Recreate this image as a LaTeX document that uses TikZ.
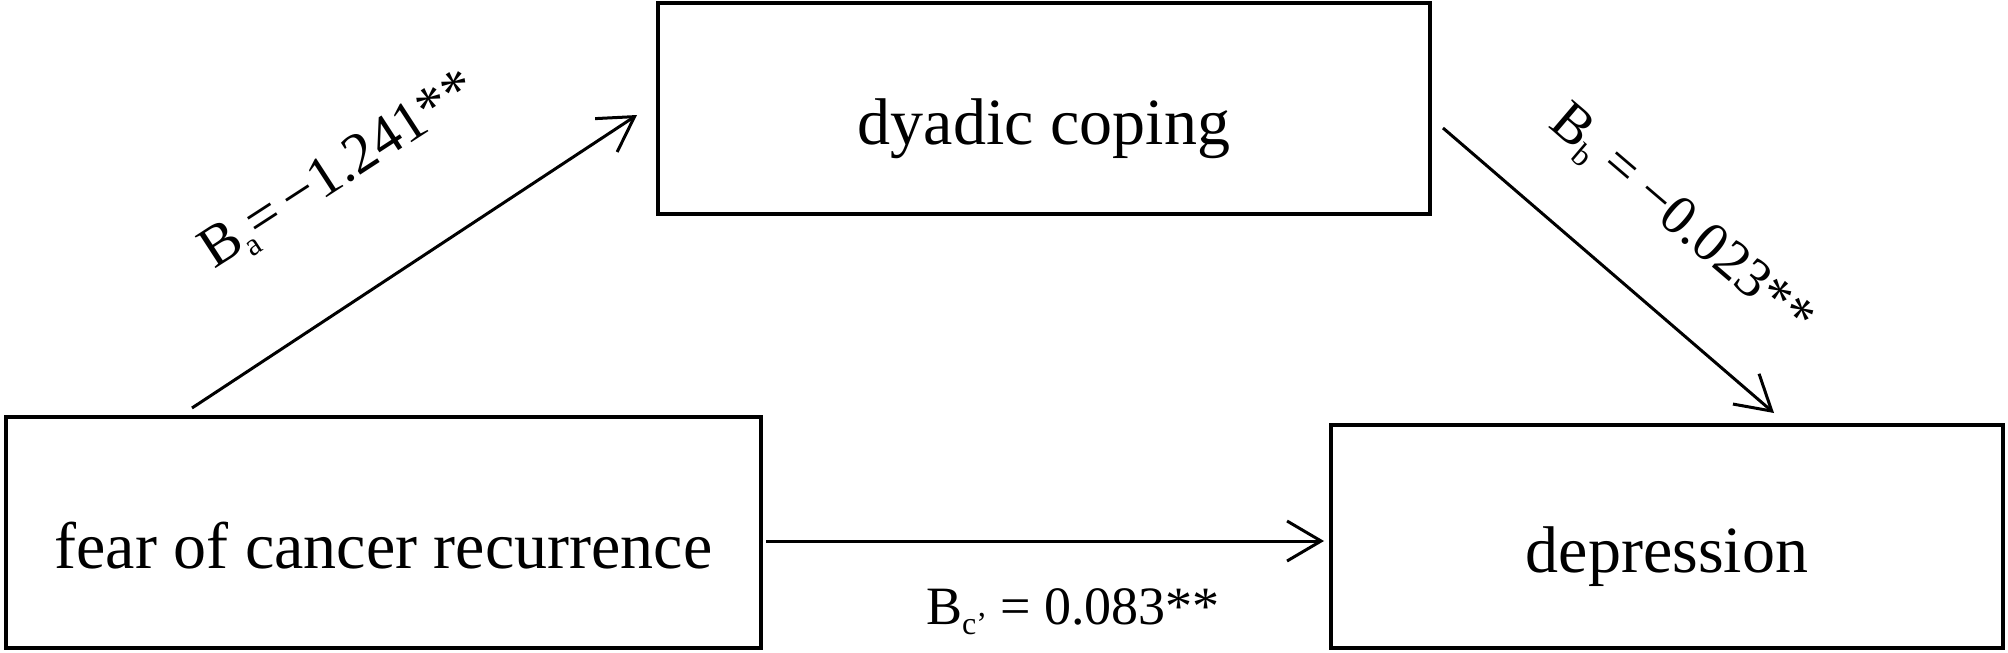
\documentclass[tikz,border=0pt]{standalone}
\usepackage{fontspec}
\setmainfont{Liberation Serif}
\usetikzlibrary{arrows.meta}
\tikzset{
  boxnode/.style={draw, line width=2.2pt, rectangle, inner sep=0pt,
    font=\fontsize{33}{40}\selectfont, text height=36pt, text depth=0pt},
  conn/.style={line width=1.5pt,
    -{Straight Barb[length=17pt,width=20pt,line width=1.5pt]}},
  coef/.style={inner sep=0pt, font=\fontsize{27}{32}\selectfont},
}
\newcommand\sbx[1]{\raisebox{-5pt}{\fontsize{16}{16}\selectfont #1}}
\begin{document}
\begin{tikzpicture}[x=0.5pt,y=-0.5pt]
\useasboundingbox (0,0) rectangle (2008,653);
\node[boxnode, minimum width=377.5pt, minimum height=115.5pt] (fear) at (383.5,532.5) {fear of cancer recurrence};
\node[boxnode, minimum width=386pt, minimum height=105.5pt] (dyad) at (1044,108.5) {dyadic coping};
\node[boxnode, minimum width=336pt, minimum height=111.5pt] (depr) at (1667,536.5) {depression};
\coordinate (a1) at (192,408); \coordinate (a2) at (637,115);
\coordinate (b1) at (1443,128); \coordinate (b2) at (1774,413);
\coordinate (c1) at (766,541); \coordinate (c2) at (1324,541);
\draw[conn] (a1) -- (a2);
\draw[conn] (b1) -- (b2);
\draw[conn] (c1) -- (c2);
\node[coef, rotate=33, font=\fontsize{29}{34}\selectfont] (la) at (340,172) {B\sbx{a}=\,−1.241**};
\node[coef, rotate=-40.5, font=\fontsize{28}{33}\selectfont] (lb) at (1680,222) {B\sbx{b} = −0.023**};
\node[coef] (lc) at (1073,612) {B\sbx{c’} = 0.083**};
\end{tikzpicture}
\end{document}
